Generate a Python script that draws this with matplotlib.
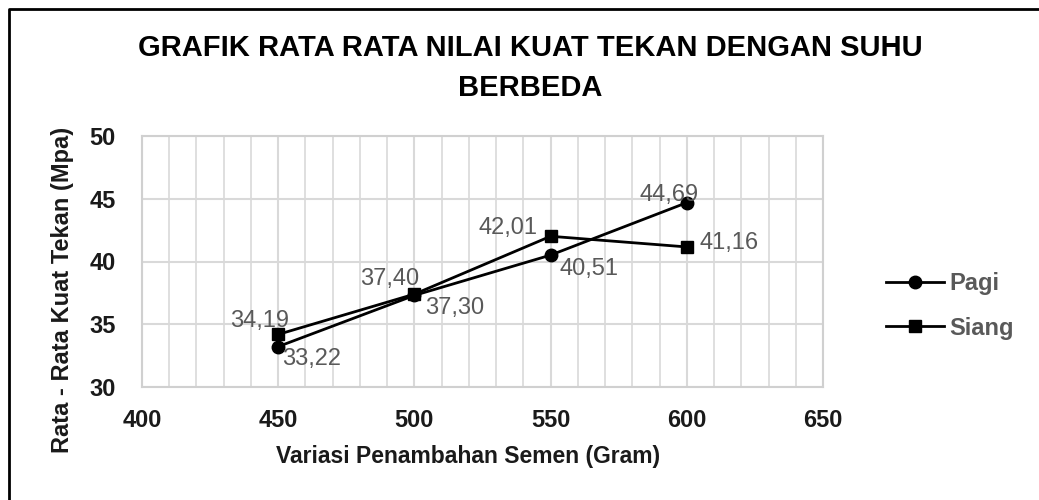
import matplotlib
matplotlib.use("Agg")
import matplotlib.pyplot as plt
from matplotlib.lines import Line2D
from matplotlib import font_manager as fm

names = {f.name for f in fm.fontManager.ttflist}
BASE = "Liberation Sans" if "Liberation Sans" in names else "DejaVu Sans"
plt.rcParams['font.family'] = [BASE, 'DejaVu Sans']

# Data
x_values = [450, 500, 550, 600]
pagi = [33.22, 37.30, 40.51, 44.69]
siang = [34.19, 37.40, 42.01, 41.16]
pagi_labels = ["33,22", "37,30", "40,51", "44,69"]
siang_labels = ["34,19", "37,40", "42,01", "41,16"]
x_ticks = [400, 450, 500, 550, 600, 650]
y_ticks = [30, 35, 40, 45, 50]

title_line1 = "GRAFIK RATA RATA NILAI KUAT TEKAN DENGAN SUHU"
title_line2 = "BERBEDA"
xlabel = "Variasi Penambahan Semen (Gram)"
ylabel = "Rata - Rata Kuat Tekan (Mpa)"

fig = plt.figure(figsize=(10.39, 5.0), dpi=100)
ax = fig.add_axes([142/1039, 1-387/500, (823-142)/1039, (387-136)/500])

ax.set_xlim(400, 650)
ax.set_ylim(30, 50)
ax.set_xticks(x_ticks)
ax.set_yticks(y_ticks)
ax.set_xticks(range(400, 651, 10), minor=True)
ax.grid(True, which='major', color='#d9d9d9', linewidth=1.5)
ax.grid(True, which='minor', axis='x', color='#d9d9d9', linewidth=1.2)
ax.set_axisbelow(True)
for s in ax.spines.values():
    s.set_color('#d0d0d0')
    s.set_linewidth(1.5)
ax.tick_params(which='both', length=0)
ax.tick_params(axis='y', pad=19)
ax.tick_params(axis='x', pad=16)
for lab in ax.get_xticklabels() + ax.get_yticklabels():
    lab.set_fontweight('bold')
    lab.set_fontsize(17)
    lab.set_color('#1a1a1a')

ax.plot(x_values, pagi, color='black', linewidth=2, marker='o', markersize=9, label='Pagi', zorder=3)
ax.plot(x_values, siang, color='black', linewidth=2, marker='s', markersize=9, label='Siang', zorder=3)

pagi_off = [(33, -12), (40, -13), (38, -14), (-18, 8)]
siang_off = [(-19, 13), (-25, 15), (-43, 8), (42, 4)]
for xv, yv, t, o in zip(x_values, pagi, pagi_labels, pagi_off):
    ax.annotate(t, (xv, yv), xytext=o, textcoords='offset pixels', ha='center', va='center',
                fontsize=17, color='#595959')
for xv, yv, t, o in zip(x_values, siang, siang_labels, siang_off):
    ax.annotate(t, (xv, yv), xytext=o, textcoords='offset pixels', ha='center', va='center',
                fontsize=17, color='#595959')

leg = fig.legend(loc='center left', bbox_to_anchor=(886/1039, 1-306/500), frameon=False,
                 prop={'weight': 'bold', 'size': 17},
                 handlelength=2.45, handletextpad=0.25, labelspacing=0.9,
                 borderpad=0, borderaxespad=0)
for t in leg.get_texts():
    t.set_color('#595959')

fig.text(530/1039, 1-48/500, title_line1, ha='center', va='center', fontsize=21,
         fontweight='bold', color='black')
fig.text(530/1039, 1-88/500, title_line2, ha='center', va='center', fontsize=21,
         fontweight='bold', color='black')
fig.text(468/1039, 1-457/500, xlabel, ha='center', va='center', fontsize=16.5,
         fontweight='bold', color='#1a1a1a')
fig.text(63/1039, 1-290/500, ylabel, ha='center', va='center', fontsize=17, rotation=90,
         fontweight='bold', color='#1a1a1a')

# outer chart border (top and left visible)
fig.add_artist(Line2D([9/1039, 9/1039, 1.0], [0.0, 1-9/500, 1-9/500],
                      transform=fig.transFigure, color='black', linewidth=2))

fig.savefig('out.png', dpi=100)
